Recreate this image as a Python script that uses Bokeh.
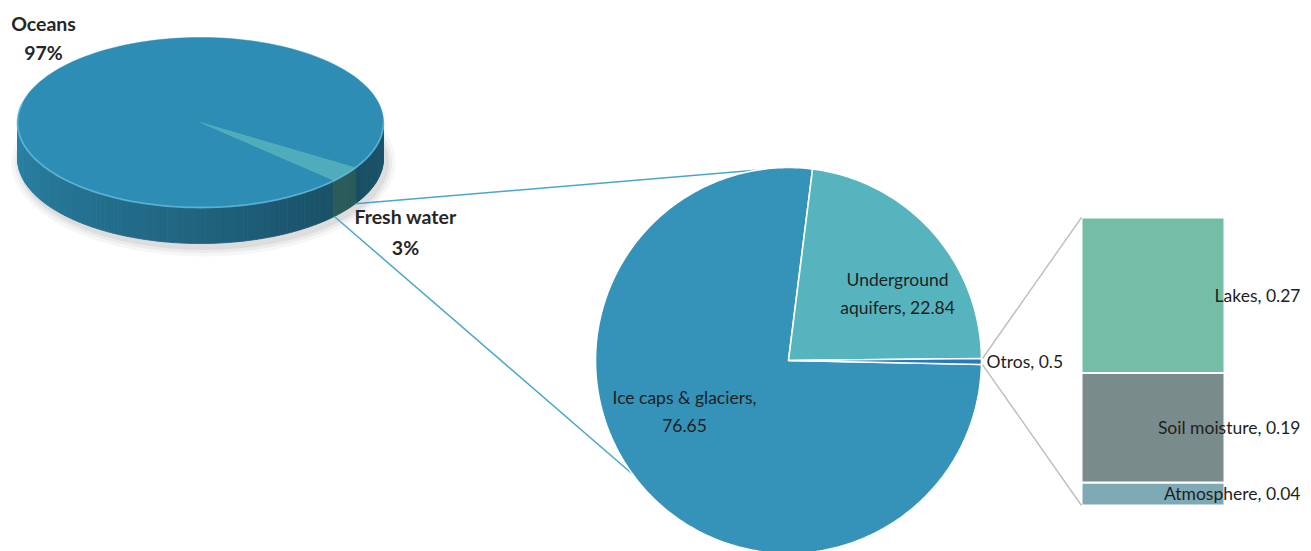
import numpy as np
from bokeh.plotting import figure
from bokeh.models import Range1d, ColumnDataSource
from bokeh.core.properties import value
from bokeh.embed import file_html
from bokeh.resources import INLINE

# ---------------- data ----------------
world_labels = ["Oceans", "Fresh water"]
world_values = [97, 3]
world_pct = ["97%", "3%"]

fresh_labels = ["Otros", "Underground aquifers", "Ice caps & glaciers"]
fresh_values = [0.5, 22.84, 76.65]

other_labels = ["Atmosphere", "Soil moisture", "Lakes"]
other_values = [0.04, 0.19, 0.27]

# ---------------- layout / style ----------------
W, H = 1311, 551
FONT = "Lato"
TXT = "#1f1f1f"
FS = "17.5px"

p = figure(width=W, height=H, x_range=Range1d(0, W), y_range=Range1d(H, 0),
           output_backend="svg", toolbar_location=None, min_border=0,
           x_axis_location=None, y_axis_location=None)
p.grid.visible = False
p.outline_line_color = None
p.background_fill_color = "white"

# bar scale (extra range so that the stacked bar uses real values)
bar_base_px, bar_px_per_unit = 505.0, 576.0
p.extra_y_ranges = {"bar": Range1d((bar_base_px - H) / bar_px_per_unit,
                                   bar_base_px / bar_px_per_unit)}

# ---------------- 3D pie (world water) ----------------
cx3, cy3, rx3, ry3, dep = 200.0, 122.0, 183.0, 85.0, 36.0
fresh_start = np.deg2rad(-43.0)
tot = float(sum(world_values))
spans = {}
a = fresh_start
for i in [1, 0]:
    da = 2 * np.pi * world_values[i] / tot
    spans[i] = (a, a + da)
    a += da


def top_pt(t):
    return cx3 + rx3 * np.cos(t), cy3 - ry3 * np.sin(t)


def slice_of(t):
    for i, (s, e) in spans.items():
        tt = s + ((t - s) % (2 * np.pi))
        if tt <= e:
            return i
    return 0


# soft shadow
for k, al in [(18, 0.035), (11, 0.045), (5, 0.06)]:
    p.ellipse(x=cx3 + 3, y=cy3 + dep + 4, width=2 * rx3 + k, height=2 * ry3 + k,
              fill_color="#000000", fill_alpha=al, line_color=None)

ocean_rgb = np.array([46, 142, 181])
fresh_rgb = np.array([90, 190, 188])
shade_deg = [180, 200, 230, 270, 305, 330, 360]
shade_val = [0.93, 0.88, 0.80, 0.70, 0.60, 0.55, 0.60]

N = 120
ts = np.linspace(np.pi, 2 * np.pi, N + 1)
sx, sy, sc = [], [], []
for j in range(N):
    t1, t2 = ts[j], ts[j + 1]
    tm = 0.5 * (t1 + t2)
    f = np.interp(np.rad2deg(tm), shade_deg, shade_val)
    idx = slice_of(tm)
    base = ocean_rgb if idx == 0 else fresh_rgb * 0.85
    c = np.clip(base * f, 0, 255).astype(int)
    x1, y1 = top_pt(t1)
    x2, y2 = top_pt(t2)
    sx.append([x1, x2, x2, x1])
    sy.append([y1, y2, y2 + dep, y1 + dep])
    sc.append("#%02x%02x%02x" % tuple(c))
p.patches(xs=sx, ys=sy, fill_color=sc, line_color=sc, line_width=0.8)

# top faces
top_cols = ["#2e8db5", "#4fadbb"]
txs, tys, tcs = [], [], []
for i in [0, 1]:
    s, e = spans[i]
    tt = np.linspace(s, e, max(4, int(200 * (e - s) / (2 * np.pi))))
    xx, yy = top_pt(tt)
    txs.append([cx3] + list(xx))
    tys.append([cy3] + list(yy))
    tcs.append(top_cols[i])
p.patches(xs=txs, ys=tys, fill_color=tcs, line_color=tcs, line_width=0.5)

# rim highlight
tr = np.linspace(np.pi * 0.93, 2.0 * np.pi, 150)
rx_, ry_ = top_pt(tr)
p.line(list(rx_), list(ry_), line_color="#66c0e3", line_width=1.8, line_alpha=0.75)

# ---------------- second pie (fresh water) ----------------
cxb, cyb, rb = 788.0, 360.0, 193.0
fresh_cols = ["#2a78c2", "#56b4be", "#3592b8"]
ftot = float(sum(fresh_values))
fstart = np.deg2rad(-1.2)
fspans = []
a = fstart
for v in fresh_values:
    da = 2 * np.pi * v / ftot
    fspans.append((a, a + da))
    a += da


def big_pt(t, r=rb):
    return cxb + r * np.cos(t), cyb - r * np.sin(t)


# blue connectors from 3D pie slice to second pie
bx1, by1 = top_pt(spans[1][1])
bx2, by2 = top_pt(spans[1][0])
ex1, ey1 = big_pt(np.deg2rad(90))
ex2, ey2 = big_pt(np.deg2rad(216))
p.line([bx1, ex1], [by1 + dep, ey1], line_color="#4ba6cb", line_width=1.5)
p.line([bx2, ex2], [by2 + dep, ey2], line_color="#4ba6cb", line_width=1.5)

pxs, pys = [], []
for (s, e) in fspans:
    tt = np.linspace(s, e, max(4, int(360 * (e - s) / (2 * np.pi))))
    xx, yy = big_pt(tt)
    pxs.append([cxb] + list(xx))
    pys.append([cyb] + list(yy))
order = [2, 1, 0]
p.patches(xs=[pxs[k] for k in order], ys=[pys[k] for k in order],
          fill_color=[fresh_cols[k] for k in order], line_color="white", line_width=1.6)

# labels of the second pie
lab_ice = f"{fresh_labels[2]},\n{fresh_values[2]}"
lab_aq = "Underground\naquifers, " + f"{fresh_values[1]}"
p.text(x=[684, 897], y=[411, 293], text=[lab_ice, lab_aq], text_align="center",
       text_baseline="middle", text_font=value(FONT), text_font_size=FS,
       text_color=TXT, text_line_height=1.35)
ox, oy = big_pt(np.mean(fspans[0]), rb + 5)
p.text(x=[ox], y=[oy], text=[f"{fresh_labels[0]}, {fresh_values[0]}"], text_align="left",
       text_baseline="middle", text_font=value(FONT), text_font_size=FS, text_color=TXT)

# ---------------- stacked bar (Otros) ----------------
bar_x, bar_w = 1152.5, 143.0
bar_cols = ["#7eaab6", "#7a8b8c", "#75bda6"]
src = ColumnDataSource({"x": [bar_x], **{lab: [v] for lab, v in zip(other_labels, other_values)}})
p.vbar_stack(other_labels, x="x", width=bar_w, source=src, fill_color=bar_cols,
             line_color="white", line_width=2, y_range_name="bar")

# grey connectors
btot = sum(other_values)
gx0 = bar_x - bar_w / 2
gx_a, gy_a = big_pt(fspans[0][1], rb + 1)
gx_b, gy_b = big_pt(fspans[0][0], rb + 1)
p.line([gx_a, gx0], [gy_a, bar_base_px - bar_px_per_unit * btot], line_color="#c0c0c0", line_width=1.5)
p.line([gx_b, gx0], [gy_b, bar_base_px], line_color="#c0c0c0", line_width=1.5)

cum = np.cumsum([0] + other_values)
mids = [(cum[i] + cum[i + 1]) / 2 for i in range(len(other_values))]
p.text(x=[1300] * 3, y=mids, text=[f"{l}, {v}" for l, v in zip(other_labels, other_values)],
       text_align="right", text_baseline="middle", text_font=value(FONT),
       text_font_size=FS, text_color=TXT, y_range_name="bar")

# ---------------- 3D pie labels ----------------
p.text(x=[43], y=[37.5], text=[f"{world_labels[0]}\n{world_pct[0]}"],
       text_align="center", text_baseline="middle", text_font=value(FONT),
       text_font_size="19.5px", text_font_style="bold", text_color="#262626", text_line_height=1.28)
p.text(x=[405], y=[231.5], text=[f"{world_labels[1]}\n{world_pct[1]}"],
       text_align="center", text_baseline="middle", text_font=value(FONT),
       text_font_size="19.5px", text_font_style="bold", text_color="#262626", text_line_height=1.38)

open("out.html", "w").write(file_html(p, INLINE))
